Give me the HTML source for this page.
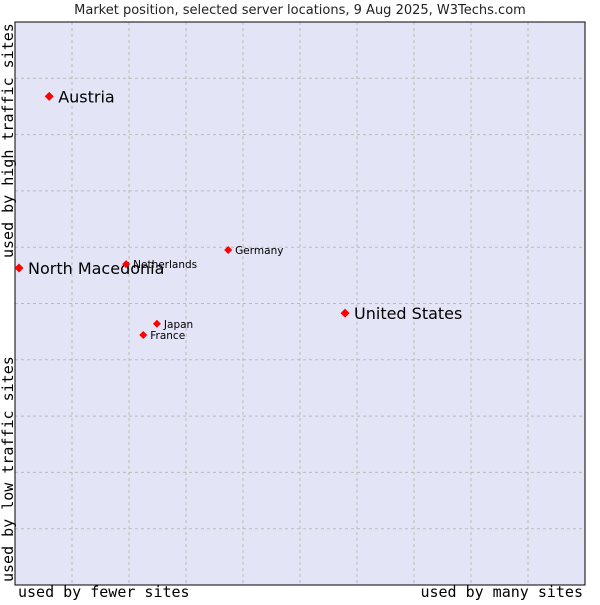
<!DOCTYPE html>
<html><head><meta charset="utf-8"><style>
body{margin:0;background:#fff;width:600px;height:600px;overflow:hidden}
svg text{font-family:"DejaVu Sans","Liberation Sans",sans-serif}
.mono{font-family:"DejaVu Sans Mono","Liberation Mono",monospace}
</style></head><body>
<svg id="chart" width="600" height="600">
<text x="300" y="14" text-anchor="middle" font-size="13" fill="#222">Market position, selected server locations, 9 Aug 2025, W3Techs.com</text>
<rect x="15" y="22" width="570" height="563" fill="#e4e4f7"/>
<g id="grid"></g>
<rect x="15" y="22" width="570" height="563" fill="none" stroke="#000" stroke-width="1"/>
<g id="points"></g>
<text class="mono" x="18" y="597" font-size="15" fill="#000">used by fewer sites</text>
<text class="mono" x="583" y="597" font-size="15" text-anchor="end" fill="#000">used by many sites</text>
<text class="mono" transform="translate(13,258) rotate(-90)" font-size="15" fill="#000">used by high traffic sites</text>
<text class="mono" transform="translate(13,582) rotate(-90)" font-size="15" fill="#000">used by low traffic sites</text>
</svg>
<script>
const names=["Austria","North Macedonia","Netherlands","Germany","United States","Japan","France"];
const xs=[0.6,0.07,1.95,3.74,5.79,2.49,2.25];
const ys=[8.68,5.63,5.7,5.95,4.83,4.64,4.44];
const big=[true,true,false,false,true,false,false];
const ns="http://www.w3.org/2000/svg";
const X0=15,X1=585,Y0=585,Y1=22;
const sx=v=>X0+v/10*(X1-X0);
const sy=v=>Y0-v/10*(Y0-Y1);
const g=document.getElementById('grid');
for(let i=1;i<10;i++){
 let l=document.createElementNS(ns,'line');
 l.setAttribute('x1',sx(i));l.setAttribute('x2',sx(i));l.setAttribute('y1',Y1);l.setAttribute('y2',Y0);
 l.setAttribute('stroke','#bbb');l.setAttribute('stroke-dasharray','3,3');
 
 
 g.appendChild(l);
 let h=document.createElementNS(ns,'line');
 h.setAttribute('y1',sy(i));h.setAttribute('y2',sy(i));h.setAttribute('x1',X0);h.setAttribute('x2',X1);
 h.setAttribute('stroke','#bbb');h.setAttribute('stroke-dasharray','3,3');
 
 
 g.appendChild(h);
}
const p=document.getElementById('points');
names.forEach((n,i)=>{
 const cx=sx(xs[i]),cy=sy(ys[i]);
 const d=document.createElementNS(ns,'path');
 const r=big[i]?4.5:4;
 d.setAttribute('d',`M${cx} ${cy-r}L${cx+r} ${cy}L${cx} ${cy+r}L${cx-r} ${cy}Z`);
 d.setAttribute('fill','#f00');
 
 
 p.appendChild(d);
 const t=document.createElementNS(ns,'text');
 t.setAttribute('x',cx+(big[i]?9:7));t.setAttribute('y',cy+(big[i]?6:4));
 t.setAttribute('font-size',big[i]?16:10.5);t.setAttribute('fill','#000');
 t.textContent=n;
 
 
 p.appendChild(t);
});
</script>
</body></html>
